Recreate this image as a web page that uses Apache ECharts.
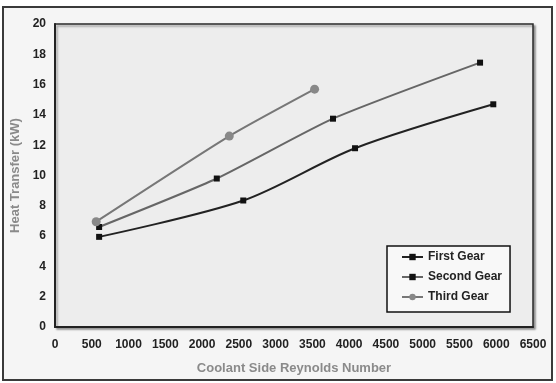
<!DOCTYPE html>
<html><head><meta charset="utf-8">
<script src="https://cdn.jsdelivr.net/npm/echarts@6/dist/echarts.min.js"></script>
<style>
html,body{margin:0;padding:0;background:#fff;}
#c{width:556px;height:383px;}
</style></head><body>
<div id="c"></div>
<script>
const xTicks = [0,500,1000,1500,2000,2500,3000,3500,4000,4500,5000,5500,6000,6500];
const yTicks = [0,2,4,6,8,10,12,14,16,18,20];
const seriesNames = ['First Gear','Second Gear','Third Gear'];
const firstGear = [[600,5.95],[2560,8.35],[4080,11.8],[5960,14.7]];
const secondGear = [[600,6.6],[2200,9.8],[3780,13.75],[5780,17.45]];
const thirdGear = [[560,6.95],[2370,12.6],[3530,15.7]];

const chart = echarts.init(document.getElementById('c'));
const font = 'Liberation Sans, Arial, sans-serif';
chart.setOption({
  animation:false,
  backgroundColor:'#fff',
  graphic:[{type:'rect',shape:{x:3,y:7,width:549,height:373},style:{fill:'#f5f5f5',stroke:'#3a3a3a',lineWidth:2},z:-10}],
  grid:{left:55,top:24,right:23,bottom:56,show:true,backgroundColor:'#ededed',borderColor:'#2a2a2a',borderWidth:1.5,
        shadowColor:'rgba(0,0,0,0.35)',shadowBlur:2,shadowOffsetX:2,shadowOffsetY:2},
  legend:{orient:'vertical',left:387,top:246,data:seriesNames,backgroundColor:'#f8f8f8',borderColor:'#111',borderWidth:1.5,
          padding:[5,8,9,14],itemGap:8,itemWidth:21,itemHeight:8,
          textStyle:{fontFamily:font,fontWeight:'bold',fontSize:12,color:'#222'}},
  xAxis:{type:'value',min:0,max:6500,interval:500,
         name:'Coolant Side Reynolds Number',nameLocation:'middle',nameGap:35,
         nameTextStyle:{fontFamily:font,fontWeight:'bold',fontSize:13,color:'#8a8a8a'},
         axisLine:{show:true,lineStyle:{color:'#222',width:2}},axisTick:{show:false},splitLine:{show:false},
         axisLabel:{fontFamily:font,fontWeight:'bold',fontSize:12,color:'#222',margin:12,formatter:v=>String(v)}},
  yAxis:{type:'value',min:0,max:20,interval:2,
         name:'Heat Transfer (kW)',nameLocation:'middle',nameGap:28,
         nameTextStyle:{fontFamily:font,fontWeight:'bold',fontSize:13,color:'#8a8a8a'},
         axisLine:{show:true,lineStyle:{color:'#222',width:2}},axisTick:{show:false},splitLine:{show:false},
         axisLabel:{fontFamily:font,fontWeight:'bold',fontSize:12,color:'#222',margin:9}},
  series:[
    {name:seriesNames[0],type:'line',data:firstGear,smooth:0.3,symbol:'rect',symbolSize:6,
     lineStyle:{color:'#222',width:2},itemStyle:{color:'#111'}},
    {name:seriesNames[1],type:'line',data:secondGear,smooth:0.2,symbol:'rect',symbolSize:6,
     lineStyle:{color:'#666',width:2},itemStyle:{color:'#111'}},
    {name:seriesNames[2],type:'line',data:thirdGear,smooth:0.2,symbol:'circle',symbolSize:9,
     lineStyle:{color:'#777',width:2},itemStyle:{color:'#888'}}
  ]
});
</script></body></html>
